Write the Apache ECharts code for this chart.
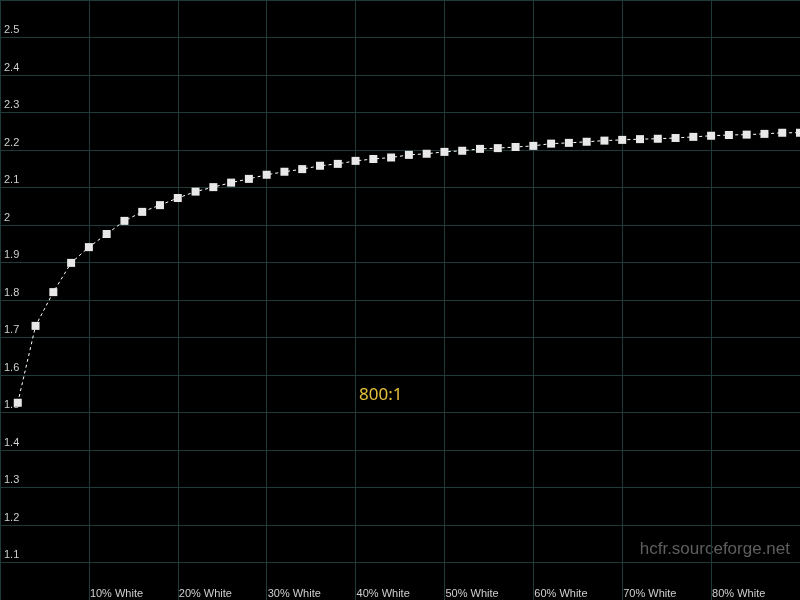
<!DOCTYPE html>
<html>
<head>
<meta charset="utf-8">
<script src="https://cdn.jsdelivr.net/npm/echarts@6/dist/echarts.min.js"></script>
<style>html,body{margin:0;padding:0;background:#000;}#c{width:800px;height:600px;}</style>
</head>
<body>
<div id="c"></div>
<script>
var xValues = [2,4,6,8,10,12,14,16,18,20,22,24,26,28,30,32,34,36,38,40,42,44,46,48,50,52,54,56,58,60,62,64,66,68,70,72,74,76,78,80,82,84,86,88,90];
var gammaValues = [1.526,1.731,1.821,1.899,1.941,1.976,2.011,2.035,2.053,2.072,2.089,2.101,2.113,2.123,2.134,2.142,2.149,2.158,2.163,2.171,2.176,2.180,2.187,2.190,2.195,2.198,2.203,2.205,2.208,2.211,2.217,2.219,2.222,2.225,2.227,2.229,2.230,2.232,2.235,2.238,2.240,2.241,2.243,2.246,2.246];
var contrastLabel = "800:1";
var watermark = "hcfr.sourceforge.net";
var xSuffix = "% White";

var chart = echarts.init(document.getElementById('c'));
var gridColor = '#1f3b39';
var labelColor = '#cfcfcf';
chart.setOption({
  backgroundColor: '#000',
  animation: false,
  grid: {left: 0, right: -1, top: -2, bottom: 0, containLabel: false},
  xAxis: {
    type: 'value', min: 0, max: 90, interval: 10,
    axisLine: {show: false}, axisTick: {show: false},
    splitLine: {show: true, lineStyle: {color: gridColor, width: 1}},
    axisLabel: {
      inside: true, margin: 1, showMinLabel: false, showMaxLabel: false,
      align: 'left', padding: [0,0,0,1],
      color: labelColor, fontSize: 11, fontFamily: 'Liberation Sans, Arial, sans-serif',
      formatter: function(v){ return v + xSuffix; }
    }
  },
  yAxis: {
    type: 'value', min: 1.0, max: 2.6, interval: 0.1,
    axisLine: {show: true, lineStyle: {color: gridColor}}, axisTick: {show: false},
    splitLine: {show: true, lineStyle: {color: gridColor, width: 1}},
    axisLabel: {
      inside: true, margin: 4, showMinLabel: false, showMaxLabel: false,
      verticalAlign: 'bottom', padding: [0,0,2,0],
      color: labelColor, fontSize: 11, fontFamily: 'Liberation Sans, Arial, sans-serif',
      formatter: function(v){ return String(Number(v.toFixed(1))); }
    }
  },
  series: [{
    type: 'line',
    data: xValues.map(function(x, i){ return [x, gammaValues[i]]; }),
    symbol: 'rect', symbolSize: 8,
    itemStyle: {color: '#e8e8e8'},
    lineStyle: {color: '#ffffff', width: 1, type: [3, 3]},
    z: 5
  }],
  graphic: [
    {type: 'text', left: 359, top: 387, style: {text: contrastLabel, fill: '#e6c03c', font: '17px "Noto Sans", sans-serif'}},
    {type: 'text', right: 10, top: 541, style: {text: watermark, fill: '#5e5e5e', font: '17px "Liberation Sans", Arial, sans-serif'}}
  ]
});
</script>
</body>
</html>
